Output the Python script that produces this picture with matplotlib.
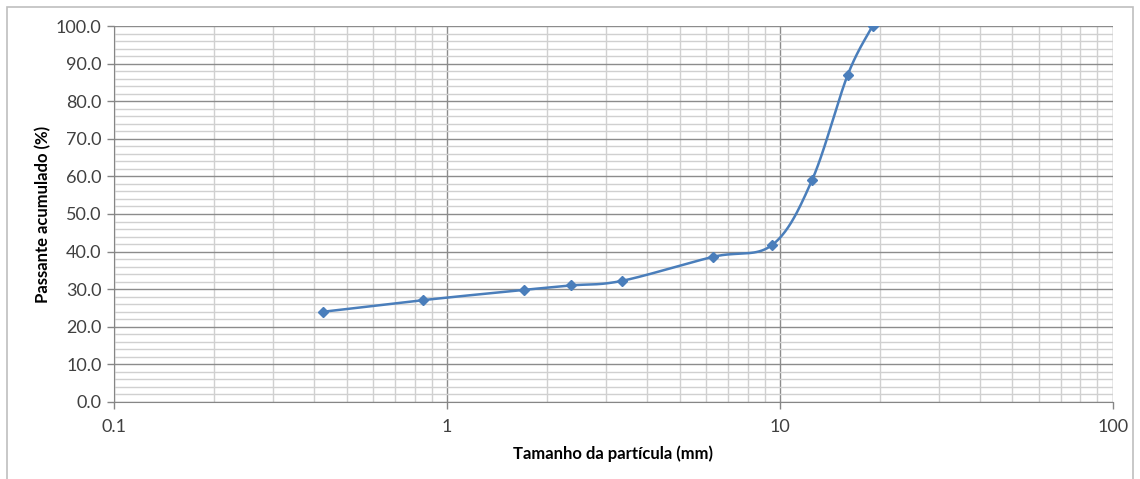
import matplotlib
matplotlib.use("Agg")
import matplotlib.pyplot as plt
import numpy as np
from matplotlib.patches import Rectangle
from matplotlib.ticker import FixedLocator, NullFormatter

# dados da curva granulométrica
tamanho_mm = [0.425, 0.85, 1.7, 2.36, 3.35, 6.3, 9.5, 12.5, 16.0, 19.0]
passante = [24.0, 27.1, 29.8, 31.0, 32.2, 38.6, 41.8, 59.0, 87.0, 100.0]

x_ticks = [0.1, 1, 10, 100]
x_ticklabels = ["0.1", "1", "10", "100"]
y_ticks = [0, 10, 20, 30, 40, 50, 60, 70, 80, 90, 100]

plt.rcParams['font.family'] = ['Lato', 'DejaVu Sans']

fig = plt.figure(figsize=(11.4, 4.79), dpi=100)
ax = fig.add_axes([0.1, 0.1608, 0.876, 0.7849])

ax.set_xscale('log')
ax.set_xlim(0.1, 100)
ax.set_ylim(0, 100)


# curva suavizada (tipo Excel), Catmull-Rom em coordenadas do eixo
def suaviza(xs, ys, n=40):
    lx = (np.log10(xs) + 1) / 3.0
    ly = np.asarray(ys) / 100.0 * (376 / 999)
    P = np.column_stack([lx, ly])
    P = np.vstack([P[0], P, P[-1]])
    pts = []
    for i in range(1, len(P) - 2):
        p0, p1, p2, p3 = P[i - 1], P[i], P[i + 1], P[i + 2]
        c1 = p1 + (p2 - p0) / 6.0
        c2 = p2 - (p3 - p1) / 6.0
        t = np.linspace(0, 1, n)[:, None]
        b = ((1 - t) ** 3) * p1 + 3 * ((1 - t) ** 2) * t * c1 + 3 * (1 - t) * t ** 2 * c2 + t ** 3 * p2
        pts.append(b)
    pts = np.vstack(pts)
    return 10 ** (pts[:, 0] * 3 - 1), pts[:, 1] / (376 / 999) * 100


sx, sy = suaviza(tamanho_mm, passante)
ax.plot(sx, sy, color='#4a7ebb', lw=1.8, zorder=3)
ax.plot(tamanho_mm, passante, linestyle='none', marker='D', ms=5.5,
        color='#4a7ebb', zorder=4)

# grades
ax.xaxis.set_major_locator(FixedLocator(x_ticks))
ax.set_xticklabels(x_ticklabels)
minx = [m * d for d in [0.1, 1, 10] for m in range(2, 10)]
ax.xaxis.set_minor_locator(FixedLocator(minx))
ax.xaxis.set_minor_formatter(NullFormatter())
ax.set_yticks(y_ticks)
ax.set_yticklabels([f"{v:.1f}" for v in y_ticks])
ax.yaxis.set_minor_locator(FixedLocator([v for v in range(0, 101, 2) if v % 10]))

ax.grid(which='major', color='#8c8c8c', lw=1.0, zorder=0)
ax.grid(which='minor', color='#d0d0d0', lw=1.0, zorder=0)
ax.set_axisbelow(True)

for s in ['top', 'right']:
    ax.spines[s].set_visible(False)
ax.spines['left'].set_color('#868686')
ax.spines['bottom'].set_color('#868686')

ax.tick_params(which='major', length=5, color='#868686', labelsize=13,
               labelcolor='#404040', width=1)
ax.tick_params(axis='x', pad=7)
ax.tick_params(axis='y', pad=4)
ax.tick_params(which='minor', length=0)

ax.set_xlabel('Tamanho da partícula (mm)', fontsize=12, fontweight='bold',
              labelpad=8)
ax.set_ylabel('Passante acumulado (%)', fontsize=12, fontweight='bold',
              labelpad=3)

# moldura do gráfico
fig.patches.append(Rectangle((7 / 1140, -0.02), 1126 / 1140, 1 - 7 / 479 + 0.02,
                             transform=fig.transFigure, fill=False,
                             edgecolor='#bfbfbf', lw=1.2))

fig.savefig('out.png', dpi=100)
